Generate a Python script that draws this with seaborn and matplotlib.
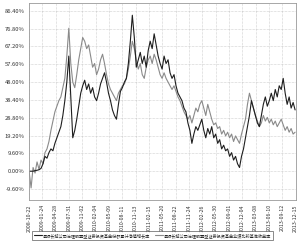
import matplotlib
matplotlib.use("Agg")
import matplotlib.pyplot as plt
import seaborn as sns
import pandas as pd
import numpy as np

start_date = "2008-10-22"
step_days = 14

fund_values = [0, 0, 0, 0.3, 0.5, 0.8, 1.5, 4, 8, 7,
               10, 12, 11, 15, 18, 21, 24, 30, 38, 48,
               62, 40, 18, 22, 28, 35, 42, 46, 49, 44,
               47, 42, 45, 40, 38, 42, 47, 50, 53, 48,
               42, 38, 33, 30, 28, 36, 43, 45, 48, 50,
               58, 70, 84, 72, 56, 60, 64, 58, 62, 56,
               65, 70, 66, 74, 68, 62, 58, 55, 62, 58,
               60, 53, 50, 52, 46, 42, 40, 38, 34, 32,
               26, 22, 15, 20, 24, 22, 25, 28, 22, 18,
               23, 20, 24, 18, 20, 15, 17, 12, 14, 11,
               12, 8, 10, 6, 8, 4, 2, 8, 12, 18,
               24, 30, 38, 34, 30, 26, 24, 30, 36, 40,
               35, 38, 42, 38, 44, 40, 46, 44, 50, 42,
               36, 40, 34, 37, 33]

bench_values = [0, -9, 2, -1, 5, 1, 6, 4, 10, 12,
                16, 22, 27, 32, 35, 38, 40, 45, 50, 62,
                77, 58, 48, 45, 52, 60, 66, 72, 70, 66,
                68, 62, 56, 58, 52, 55, 60, 63, 58, 52,
                47, 44, 42, 40, 38, 42, 44, 46, 47, 50,
                55, 62, 70, 66, 60, 55, 58, 52, 50, 56,
                60, 62, 58, 63, 60, 56, 52, 50, 53, 50,
                48, 46, 44, 46, 43, 40, 38, 35, 32, 30,
                28, 30, 26, 30, 34, 32, 36, 38, 34, 30,
                36, 32, 28, 25, 26, 23, 24, 20, 22, 19,
                21, 18, 20, 16, 19, 17, 15, 20, 24, 28,
                36, 42, 38, 34, 30, 27, 24, 26, 30, 27,
                29, 26, 28, 25, 27, 24, 26, 28, 25, 22,
                24, 21, 23, 20, 21]

tick_labels = ["2008-10-22", "2009-01-24", "2009-04-28", "2009-07-31", "2009-11-02",
               "2010-02-04", "2010-05-09", "2010-08-11", "2010-11-13", "2011-02-15",
               "2011-05-20", "2011-08-22", "2011-11-24", "2012-02-26", "2012-05-30",
               "2012-09-01", "2012-12-04", "2013-03-08", "2013-06-10", "2013-09-12",
               "2013-12-15"]

y_ticks = [-9.6, 0.0, 9.6, 19.2, 28.8, 38.4, 48.0, 57.6, 67.2, 76.8, 86.4]

series_names = ["景顺长城公司治理股票型证券投资基金份额累计净值增长率",
                "景顺长城公司治理股票型证券投资基金业绩比较基准收益率"]

dates = pd.date_range(start_date, periods=len(fund_values), freq=f"{step_days}D")
df = pd.concat([
    pd.DataFrame({"date": dates, "value": fund_values, "series": series_names[0]}),
    pd.DataFrame({"date": dates, "value": bench_values, "series": series_names[1]}),
])

sns.set_style("white")
plt.rcParams['font.family'] = ['Noto Sans CJK SC', 'DejaVu Sans']

fig = plt.figure(figsize=(3.0, 2.43), dpi=100)
ax = fig.add_axes([0.097, 0.177, 0.89, 0.81])

sns.lineplot(data=df, x="date", y="value", hue="series",
             palette={series_names[0]: "#1e1e1e", series_names[1]: "#8a8a8a"},
             hue_order=[series_names[1], series_names[0]],
             linewidth=0.8, ax=ax, legend=False)

tick_dates = pd.to_datetime(tick_labels)
ax.set_xticks(tick_dates)
ax.set_xticklabels(tick_labels, rotation=90, fontsize=3.8, color="#333333")
ax.set_xlim(tick_dates[0], tick_dates[-1] + pd.Timedelta(days=3))
ax.set_yticks(y_ticks)
ax.set_yticklabels([f"{v:.2f}%" for v in y_ticks], fontsize=4.2, color="#333333")
ax.set_ylim(-15.5, 90.5)
ax.set_xlabel("")
ax.set_ylabel("")
ax.tick_params(axis="both", length=1.5, width=0.4, pad=1.5, color="#888888")
ax.grid(True, linestyle=(0, (1, 1.5)), linewidth=0.4, color="#aaaaaa")
for s in ax.spines.values():
    s.set_color("#999999")
    s.set_linewidth(0.6)

from matplotlib.lines import Line2D
handles = [Line2D([], [], color="#1e1e1e", lw=0.8), Line2D([], [], color="#8a8a8a", lw=0.8)]
leg = fig.legend(handles, series_names, loc="lower left", bbox_to_anchor=(0.105, 0.01),
                 ncol=2, fontsize=3.0, frameon=True, fancybox=False, edgecolor="#333333",
                 handlelength=1.8, handletextpad=0.3, columnspacing=1.2,
                 borderpad=0.45, borderaxespad=0.2)
leg.get_frame().set_linewidth(0.5)

fig.savefig("out.png", dpi=100)
